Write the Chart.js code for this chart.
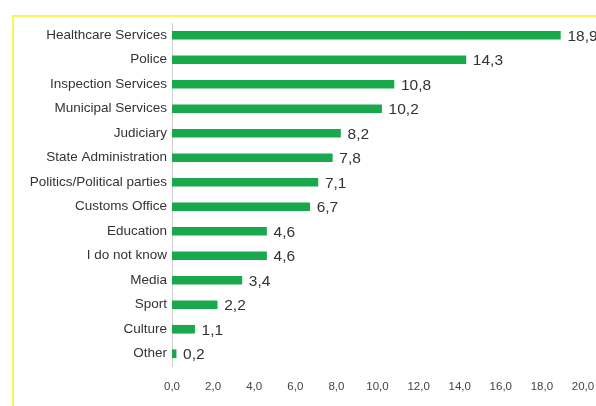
<!DOCTYPE html>
<html>
<head>
<meta charset="utf-8">
<script src="https://cdn.jsdelivr.net/npm/chart.js@4"></script>
<style>
  html, body { margin: 0; padding: 0; background: #fff; overflow: hidden; }
  #wrap { position: relative; width: 596px; height: 406px; }
  #frame { position: absolute; left: 12px; top: 15px; width: 800px; height: 600px;
           border: 2px solid #fbf35a; box-sizing: border-box; }
  #box { position: absolute; left: 0; top: 0; width: 596px; height: 406px; }
</style>
</head>
<body>
<div id="wrap">
  <div id="frame"></div>
  <div id="box"><canvas id="corruptionChart"></canvas></div>
</div>
<script>
const categories = ['Healthcare Services', 'Police', 'Inspection Services', 'Municipal Services',
    'Judiciary', 'State Administration', 'Politics/Political parties', 'Customs Office',
    'Education', 'I do not know', 'Media', 'Sport', 'Culture', 'Other'];
const values = [18.9, 14.3, 10.8, 10.2, 8.2, 7.8, 7.1, 6.7, 4.6, 4.6, 3.4, 2.2, 1.1, 0.2];
const xTicks = [0, 2, 4, 6, 8, 10, 12, 14, 16, 18, 20];

const fmt = v => v.toFixed(1).replace('.', ',');

// value labels at the end of each bar
const valueLabels = {
    id: 'valueLabels',
    afterDatasetsDraw(chart) {
        const c = chart.ctx;
        const meta = chart.getDatasetMeta(0);
        c.save();
        c.font = '15.5px "Liberation Sans", Arial, sans-serif';
        c.fillStyle = '#333';
        c.textBaseline = 'middle';
        meta.data.forEach((bar, i) => {
            c.fillText(fmt(values[i]), bar.x + 7, bar.y + 1);
        });
        c.restore();
    }
};

const ctx = document.getElementById('corruptionChart').getContext('2d');

const corruptionChart = new Chart(ctx, {
    type: 'bar',
    data: {
        labels: categories,
        datasets: [
            {
                data: values,
                backgroundColor: '#1aa84c',
                barThickness: 8
            }
        ]
    },
    options: {
        indexAxis: 'y',
        responsive: true,
        maintainAspectRatio: false,
        animation: false,
        layout: { padding: { top: 23, right: 13, bottom: 10, left: 0 } },
        plugins: {
            legend: { display: false },
            tooltip: { enabled: false }
        },
        scales: {
            x: {
                min: 0,
                max: 20,
                afterBuildTicks(axis) { axis.ticks = xTicks.map(v => ({ value: v })); },
                afterFit(axis) {
                    axis.height = 30;
                    axis.paddingLeft = 0;
                    axis.paddingRight = 0;
                },
                grid: { display: false, drawTicks: false },
                border: { display: false },
                ticks: {
                    padding: 14,
                    maxRotation: 0,
                    color: '#444',
                    font: { family: '"Liberation Sans", Arial, sans-serif', size: 11.5 },
                    callback: v => fmt(v)
                }
            },
            y: {
                afterFit(axis) { axis.width = 172; },
                grid: { display: false, drawTicks: false },
                border: { display: true, color: '#d0d0d0', width: 1 },
                ticks: {
                    padding: 5,
                    color: '#333',
                    font: { family: '"Liberation Sans", Arial, sans-serif', size: 13.5 }
                }
            }
        }
    },
    plugins: [valueLabels]
});
</script>
</body>
</html>
